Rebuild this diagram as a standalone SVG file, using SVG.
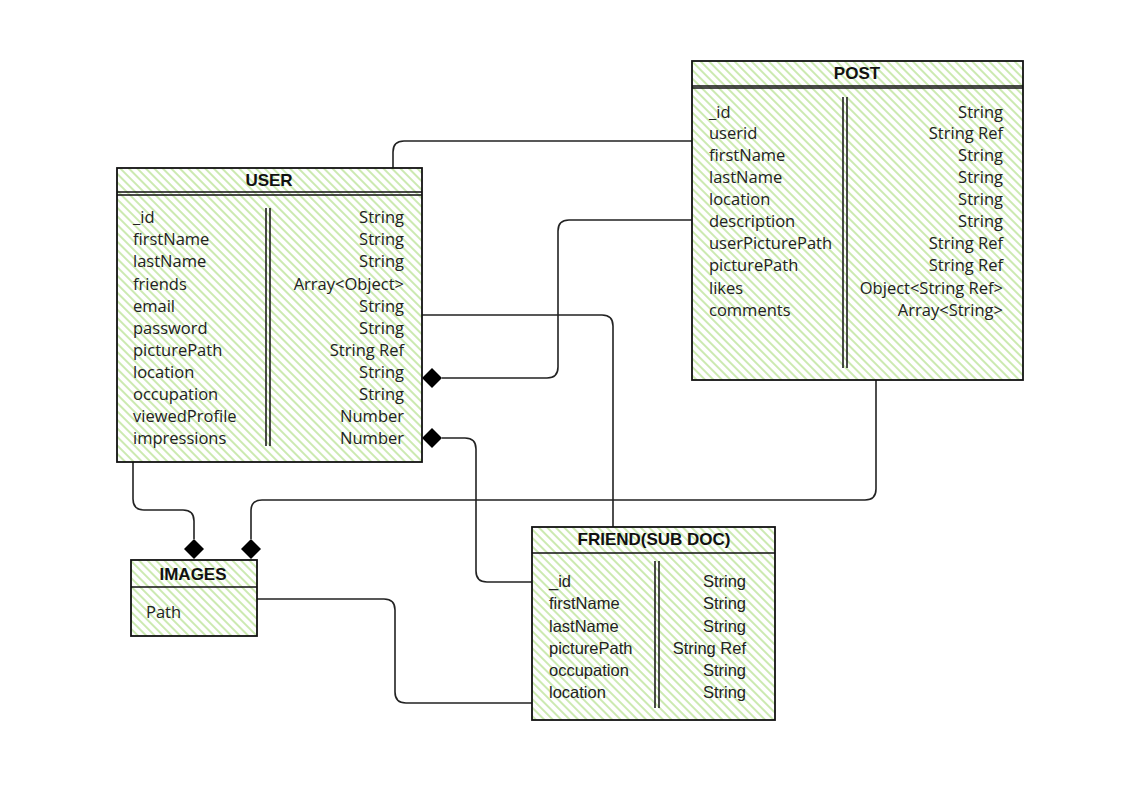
<svg xmlns="http://www.w3.org/2000/svg" width="1146" height="807" viewBox="0 0 1146 807">
<defs>
<pattern id="hatch" width="6" height="6" patternUnits="userSpaceOnUse" patternTransform="rotate(-45)">
<line x1="2" y1="-1" x2="2" y2="7" stroke="#a9db7c" stroke-width="1.2"/>
</pattern>
<marker id="dia" viewBox="0 0 20 20" refX="0" refY="10" markerWidth="20" markerHeight="20" markerUnits="userSpaceOnUse" orient="auto">
<path d="M0,10 L10,0 L20,10 L10,20 Z" fill="#000"/>
</marker>
</defs>
<style>
.box{fill:url(#hatch);stroke:#111;stroke-width:1.8}
.sep{stroke:#111;stroke-width:1.5;fill:none}
.title{font-family:"Liberation Sans",Arial,sans-serif;font-weight:bold;font-size:17px;fill:#111;text-anchor:middle}
.t{font-family:"Open Sans","Noto Sans",sans-serif;font-size:16.5px;fill:#222}
.ta{font-family:"Liberation Sans",Arial,sans-serif;font-size:16.5px;fill:#222}
.r{text-anchor:end}
.c{fill:none;stroke:#222;stroke-width:1.6}
</style>
<rect width="1146" height="807" fill="#fff"/>
<g id="connectors">
<path class="c" d="M393,168 V152 Q393,141 404,141 H692"/>
<path class="c" d="M692,220 H569 Q558,220 558,231 V367 Q558,378 547,378 H442" marker-end="url(#dia)"/>
<path class="c" d="M422,315 H602 Q613,315 613,326 V527"/>
<path class="c" d="M532,582 H487 Q476,582 476,571 V449 Q476,438 465,438 H442" marker-end="url(#dia)"/>
<path class="c" d="M133,462 V499 Q133,510 144,510 H183 Q194,510 194,521 V539" marker-end="url(#dia)"/>
<path class="c" d="M876,380 V489 Q876,500 865,500 H262 Q251,500 251,511 V539" marker-end="url(#dia)"/>
<path class="c" d="M257,599 H384 Q395,599 395,610 V692 Q395,703 406,703 H532"/>
</g>
<g id="user">
<rect class="box" x="117" y="168" width="305" height="294"/>
<path class="sep" d="M117,192 H422 M117,195 H422 M266,208 V446 M270,208 V446"/>
<text class="title" x="269" y="186">USER</text>
<g class="t">
<text x="133" y="223">_id</text>
<text x="133" y="245">firstName</text>
<text x="133" y="267">lastName</text>
<text x="133" y="290">friends</text>
<text x="133" y="312">email</text>
<text x="133" y="334">password</text>
<text x="133" y="356">picturePath</text>
<text x="133" y="378">location</text>
<text x="133" y="400">occupation</text>
<text x="133" y="422">viewedProfile</text>
<text x="133" y="444">impressions</text>
</g>
<g class="t r">
<text x="404" y="223">String</text>
<text x="404" y="245">String</text>
<text x="404" y="267">String</text>
<text x="404" y="290">Array&lt;Object&gt;</text>
<text x="404" y="312">String</text>
<text x="404" y="334">String</text>
<text x="404" y="356">String Ref</text>
<text x="404" y="378">String</text>
<text x="404" y="400">String</text>
<text x="404" y="422">Number</text>
<text x="404" y="444">Number</text>
</g>
</g>
<g id="post">
<rect class="box" x="692" y="61" width="331" height="319"/>
<path class="sep" d="M692,86 H1023 M692,88 H1023 M843,97 V368 M847,97 V368"/>
<text class="title" x="857" y="79">POST</text>
<g class="t">
<text x="709" y="118">_id</text>
<text x="709" y="139">userid</text>
<text x="709" y="161">firstName</text>
<text x="709" y="183">lastName</text>
<text x="709" y="205">location</text>
<text x="709" y="227">description</text>
<text x="709" y="249">userPicturePath</text>
<text x="709" y="271">picturePath</text>
<text x="709" y="294">likes</text>
<text x="709" y="316">comments</text>
</g>
<g class="t r">
<text x="1003" y="118">String</text>
<text x="1003" y="139">String Ref</text>
<text x="1003" y="161">String</text>
<text x="1003" y="183">String</text>
<text x="1003" y="205">String</text>
<text x="1003" y="227">String</text>
<text x="1003" y="249">String Ref</text>
<text x="1003" y="271">String Ref</text>
<text x="1003" y="294">Object&lt;String Ref&gt;</text>
<text x="1003" y="316">Array&lt;String&gt;</text>
</g>
</g>
<g id="images">
<rect class="box" x="131" y="560" width="126" height="76"/>
<path class="sep" d="M131,587 H257"/>
<text class="title" x="193" y="580">IMAGES</text>
<text class="t" x="146" y="618">Path</text>
</g>
<g id="friend">
<rect class="box" x="532" y="527" width="243" height="193"/>
<path class="sep" d="M532,553 H775 M655,561 V708 M659,561 V708"/>
<text class="title" x="654" y="545">FRIEND(SUB DOC)</text>
<g class="ta">
<text x="549" y="587">_id</text>
<text x="549" y="609">firstName</text>
<text x="549" y="632">lastName</text>
<text x="549" y="654">picturePath</text>
<text x="549" y="676">occupation</text>
<text x="549" y="698">location</text>
</g>
<g class="ta r">
<text x="746" y="587">String</text>
<text x="746" y="609">String</text>
<text x="746" y="632">String</text>
<text x="746" y="654">String Ref</text>
<text x="746" y="676">String</text>
<text x="746" y="698">String</text>
</g>
</g>
</svg>
